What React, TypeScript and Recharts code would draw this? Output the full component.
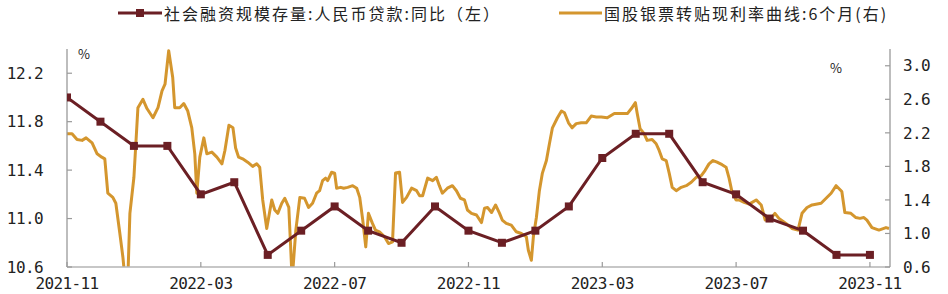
import React from 'react';
import { ComposedChart, Line, XAxis, YAxis, Legend } from 'recharts';

// ---------- data ----------
const months: string[] = [
  '2021-11', '2021-12', '2022-01', '2022-02', '2022-03', '2022-04', '2022-05', '2022-06', '2022-07',
  '2022-08', '2022-09', '2022-10', '2022-11', '2022-12', '2023-01', '2023-02', '2023-03', '2023-04',
  '2023-05', '2023-06', '2023-07', '2023-08', '2023-09', '2023-10', '2023-11',
];
const loanYoY: number[] = [
  12.0, 11.8, 11.6, 11.6, 11.2, 11.3, 10.7, 10.9, 11.1, 10.9, 10.8, 11.1, 10.9,
  10.8, 10.9, 11.1, 11.5, 11.7, 11.7, 11.3, 11.2, 11.0, 10.9, 10.7, 10.7,
];

// discount rate: month offset from 2021-11, value (%)
const rateT: number[] = [
  0.0, 0.15, 0.3, 0.45, 0.57, 0.75, 0.9, 1.04, 1.13, 1.22, 1.37, 1.46, 1.58, 1.67, 1.76, 1.81, 1.88,
  2.0, 2.12, 2.27, 2.39, 2.57, 2.72, 2.84, 2.93, 3.04, 3.16, 3.22, 3.37, 3.49, 3.61, 3.73, 3.82,
  3.88, 3.97, 4.09, 4.18, 4.33, 4.48, 4.63, 4.72, 4.84, 4.96, 5.04, 5.13, 5.25, 5.4, 5.55, 5.67,
  5.76, 5.85, 5.97, 6.12, 6.21, 6.3, 6.42, 6.51, 6.63, 6.73, 6.84, 6.96, 7.1, 7.22, 7.34, 7.46,
  7.55, 7.64, 7.73, 7.79, 7.91, 8.0, 8.06, 8.18, 8.27, 8.39, 8.54, 8.66, 8.75, 8.84, 8.93, 9.01,
  9.13, 9.22, 9.34, 9.49, 9.61, 9.73, 9.82, 9.94, 10.03, 10.15, 10.3, 10.45, 10.54, 10.63, 10.78,
  10.93, 11.04, 11.13, 11.22, 11.37, 11.52, 11.64, 11.76, 11.88, 11.97, 12.09, 12.24, 12.39, 12.48,
  12.57, 12.69, 12.81, 12.93, 13.01, 13.13, 13.28, 13.43, 13.58, 13.73, 13.79, 13.88, 13.94, 14.03,
  14.12, 14.21, 14.33, 14.42, 14.51, 14.66, 14.78, 14.87, 14.99, 15.1, 15.22, 15.37, 15.52, 15.67,
  15.82, 15.97, 16.15, 16.36, 16.57, 16.75, 16.87, 16.99, 17.04, 17.13, 17.25, 17.34, 17.49, 17.61,
  17.7, 17.79, 17.91, 18.0, 18.09, 18.21, 18.36, 18.51, 18.66, 18.81, 18.96, 19.07, 19.19, 19.31,
  19.43, 19.58, 19.7, 19.79, 19.88, 20.0, 20.09, 20.24, 20.39, 20.6, 20.75, 20.87, 21.04, 21.16,
  21.28, 21.49, 21.67, 21.85, 21.97, 22.12, 22.27, 22.54, 22.69, 22.84, 22.99, 23.16, 23.25, 23.43,
  23.58, 23.7, 23.82, 23.91, 24.06, 24.27, 24.48, 24.57,
];
const rateV: number[] = [
  2.19, 2.19, 2.12, 2.11, 2.14, 2.08, 1.95, 1.91, 1.89, 1.48, 1.43, 1.36, 1.0, 0.72, 0.35, 0.35, 1.24,
  1.67, 2.5, 2.6, 2.49, 2.38, 2.5, 2.7, 2.78, 3.18, 2.86, 2.5, 2.5, 2.55, 2.46, 2.26, 1.95,
  1.48, 1.91, 2.14, 1.95, 1.97, 1.91, 1.83, 1.99, 2.29, 2.26, 2.02, 1.91, 1.89, 1.85, 1.8, 1.83,
  1.79, 1.4, 1.06, 1.4, 1.28, 1.24, 1.36, 1.42, 1.31, 0.45, 1.04, 1.43, 1.42, 1.31, 1.36, 1.48,
  1.51, 1.63, 1.66, 1.63, 1.73, 1.72, 1.54, 1.55, 1.54, 1.55, 1.57, 1.54, 1.43, 1.16, 0.84, 1.24,
  1.12, 1.04, 1.02, 0.96, 0.88, 0.9, 1.72, 1.73, 1.37, 1.43, 1.54, 1.51, 1.45, 1.45, 1.66,
  1.63, 1.67, 1.57, 1.48, 1.54, 1.57, 1.51, 1.42, 1.4, 1.28, 1.24, 1.22, 1.13, 1.3,
  1.31, 1.25, 1.34, 1.24, 1.16, 1.12, 1.1, 1.02, 1.0, 0.96, 0.8, 0.68, 0.96, 1.19,
  1.51, 1.72, 1.87, 2.07, 2.26, 2.38, 2.46, 2.44, 2.32, 2.26, 2.31, 2.32, 2.32, 2.4,
  2.39, 2.39, 2.38, 2.43, 2.43, 2.43, 2.49, 2.56, 2.44, 2.25, 2.19, 2.11, 2.12, 2.07,
  1.99, 1.89, 1.87, 1.72, 1.55, 1.51, 1.55, 1.57, 1.61, 1.67, 1.69, 1.75, 1.83, 1.87,
  1.85, 1.82, 1.79, 1.66, 1.49, 1.4, 1.4, 1.37, 1.35, 1.4, 1.34, 1.16, 1.18, 1.24,
  1.18, 1.12, 1.06, 1.04, 1.24, 1.31, 1.34, 1.36, 1.42, 1.48, 1.57, 1.5, 1.25, 1.24,
  1.19, 1.18, 1.19, 1.16, 1.07, 1.04, 1.07, 1.06,
];

const xTicks: number[] = [0, 4, 8, 12, 16, 20, 24];
const leftTicks: number[] = [10.6, 11.0, 11.4, 11.8, 12.2];
const rightTicks: number[] = [0.6, 1.0, 1.4, 1.8, 2.2, 2.6, 3.0];
const seriesNames = ['社会融资规模存量:人民币贷款:同比（左）', '国股银票转贴现利率曲线:6个月(右)'];

// ---------- styles ----------
const BROWN = '#6B1F24';
const GOLD = '#D4962E';
const AXIS = '#9a9a9a';
const TICK_FONT = '"DejaVu Sans Mono", "Liberation Mono", monospace';
const CJK_FONT = '"Noto Sans CJK SC", "Noto Sans", sans-serif';

const loanData = months.map((m, i) => ({ t: i, v: loanYoY[i] }));
const rateData = rateT.map((t, i) => ({ t, v: rateV[i] }));

const LEFT_MARGIN = 24;
const RIGHT_MARGIN = 13;
const BOTTOM_MARGIN = 11;

const LeftTick = (p: any) => (
  <g>
    <line x1={p.x + LEFT_MARGIN} x2={p.x + LEFT_MARGIN + 5} y1={p.y} y2={p.y} stroke={AXIS} strokeWidth={1.2} />
    <text x={p.x} y={p.y} dy="0.355em" textAnchor="end" fontFamily={TICK_FONT} fontSize={16} letterSpacing={-0.6} fill="#222">
      {p.payload.value.toFixed(1)}
    </text>
  </g>
);
const RightTick = (p: any) => (
  <g>
    <line x1={p.x - RIGHT_MARGIN} x2={p.x - RIGHT_MARGIN - 5} y1={p.y} y2={p.y} stroke={AXIS} strokeWidth={1.2} />
    <text x={p.x} y={p.y} dy="0.355em" textAnchor="start" fontFamily={TICK_FONT} fontSize={16} letterSpacing={-0.6} fill="#222">
      {p.payload.value.toFixed(1)}
    </text>
  </g>
);
const BottomTick = (p: any) => (
  <g>
    <line x1={p.x} x2={p.x} y1={p.y - BOTTOM_MARGIN} y2={p.y - BOTTOM_MARGIN - 5} stroke={AXIS} strokeWidth={1.2} />
    <text x={p.x} y={p.y} dy="0.71em" textAnchor="middle" fontFamily={TICK_FONT} fontSize={16} letterSpacing={-0.6} fill="#222">
      {months[p.payload.value]}
    </text>
  </g>
);

const SquareDot = (p: any) => {
  if (p.cx == null || p.cy == null) return <g key={p.key} />;
  return <rect key={p.key} x={p.cx - 4} y={p.cy - 4} width={8} height={8} fill={BROWN} />;
};

const LegendContent = () => (
  <div style={{ position: 'relative', width: 948, height: 30, fontFamily: CJK_FONT, fontSize: 16, color: '#222', letterSpacing: 2 }}>
    <div style={{ position: 'absolute', left: 118, top: 1, display: 'flex', alignItems: 'center', whiteSpace: 'nowrap' }}>
      <svg width={44} height={10} style={{ display: 'block' }}>
        <line x1={0} y1={5} x2={44} y2={5} stroke={BROWN} strokeWidth={3} />
        <rect x={18} y={1} width={8} height={8} fill={BROWN} />
      </svg>
      <span style={{ marginLeft: 2 }}>{seriesNames[0]}</span>
    </div>
    <div style={{ position: 'absolute', left: 559, top: 1, display: 'flex', alignItems: 'center', whiteSpace: 'nowrap' }}>
      <svg width={43} height={10} style={{ display: 'block' }}>
        <line x1={0} y1={5} x2={43} y2={5} stroke={GOLD} strokeWidth={3} />
      </svg>
      <span style={{ marginLeft: 2 }}>{seriesNames[1]}</span>
    </div>
  </div>
);

const pctLeft = (p: any) => {
  const vb = p.viewBox || {};
  return (
    <text x={vb.x + vb.width + 17} y={vb.y + 5} dy="0.355em" textAnchor="middle" fontFamily={CJK_FONT} fontSize={13} fill="#222">%</text>
  );
};
const pctRight = (p: any) => {
  const vb = p.viewBox || {};
  return (
    <text x={vb.x - 54} y={vb.y + 19} dy="0.355em" textAnchor="middle" fontFamily={CJK_FONT} fontSize={13} fill="#222">%</text>
  );
};

export default function App() {
  return (
    <div style={{ position: 'absolute', left: 0, top: 0, width: 948, height: 294, background: '#fff' }}>
      <ComposedChart width={948} height={294} margin={{ top: 19, right: 8, bottom: 0, left: 0 }}>
        <Legend
          verticalAlign="top"
          align="left"
          content={<LegendContent />}
          wrapperStyle={{ top: 0, left: 0, width: 948, height: 30 }}
        />
        <XAxis
          type="number"
          dataKey="t"
          domain={[0, 24.6]}
          ticks={xTicks}
          allowDataOverflow
          height={27}
          tickSize={0}
          tickMargin={BOTTOM_MARGIN}
          tickLine={false}
          tick={<BottomTick />}
          axisLine={{ stroke: '#b5b5b5', strokeWidth: 1.3 }}
          interval={0}
        />
        <YAxis
          yAxisId="left"
          orientation="left"
          type="number"
          domain={[10.6, 12.4]}
          ticks={leftTicks}
          allowDataOverflow
          width={67}
          tickSize={0}
          tickMargin={LEFT_MARGIN}
          tickLine={false}
          tick={<LeftTick />}
          axisLine={{ stroke: AXIS, strokeWidth: 1.3 }}
          interval={0}
          label={pctLeft}
        />
        <YAxis
          yAxisId="right"
          orientation="right"
          type="number"
          domain={[0.6, 3.2]}
          ticks={rightTicks}
          allowDataOverflow
          width={50}
          tickSize={0}
          tickMargin={RIGHT_MARGIN}
          tickLine={false}
          tick={<RightTick />}
          axisLine={{ stroke: AXIS, strokeWidth: 1.3 }}
          interval={0}
          label={pctRight}
        />
        <Line
          yAxisId="right"
          data={rateData}
          dataKey="v"
          name={seriesNames[1]}
          type="linear"
          stroke={GOLD}
          strokeWidth={3}
          dot={false}
          activeDot={false}
          isAnimationActive={false}
          strokeLinejoin="round"
        />
        <Line
          yAxisId="left"
          data={loanData}
          dataKey="v"
          name={seriesNames[0]}
          type="linear"
          stroke={BROWN}
          strokeWidth={3}
          dot={<SquareDot />}
          activeDot={false}
          isAnimationActive={false}
        />
      </ComposedChart>
    </div>
  );
}
